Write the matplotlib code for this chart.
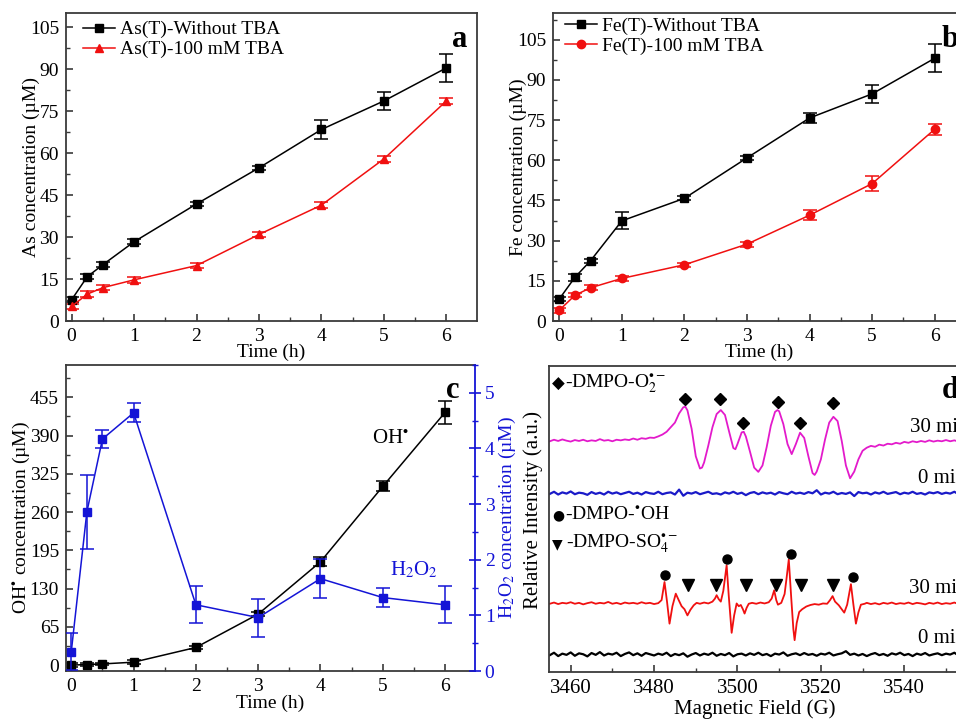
import numpy as np
import matplotlib
matplotlib.use("Agg")
import matplotlib.pyplot as plt
from matplotlib.ticker import MultipleLocator

plt.rcParams["font.family"] = ["Liberation Serif", "DejaVu Sans"]
plt.rcParams["mathtext.fontset"] = "stix"
plt.rcParams["font.size"] = 14

W, H = 956, 719

# ---------------- panel a / b / c data ----------------
time_h = [0, 0.25, 0.5, 1, 2, 3, 4, 5, 6]

as_without = [7.6, 15.8, 20.1, 28.3, 41.8, 54.7, 68.4, 78.6, 90.4]
as_without_err = [0.8, 0.9, 0.8, 0.9, 0.8, 0.8, 3.4, 3.3, 4.9]
as_tba = [5.2, 9.6, 11.9, 14.7, 19.8, 30.9, 41.4, 57.9, 78.6]
as_tba_err = [1.0, 1.0, 1.0, 1.0, 1.0, 1.0, 1.0, 1.0, 1.0]

fe_without = [8.2, 16.3, 22.5, 37.4, 45.8, 60.9, 75.8, 84.8, 98.1]
fe_without_err = [0.8, 1.4, 0.8, 3.2, 0.8, 0.8, 1.9, 3.5, 5.2]
fe_tba = [4.0, 9.6, 12.4, 15.9, 21.0, 28.7, 39.5, 51.3, 71.6]
fe_tba_err = [1.0, 0.8, 0.9, 0.8, 0.8, 0.9, 1.8, 2.9, 2.0]

oh_conc = [0.0, 1.0, 2.0, 5.0, 30.0, 86.7, 175.6, 303.7, 429.5]
oh_err = [3, 2, 2, 3, 3, 4, 7.6, 8.5, 19.8]
h2o2_conc = [0.35, 2.86, 4.17, 4.64, 1.19, 0.96, 1.66, 1.32, 1.19]
h2o2_err = [0.33, 0.67, 0.17, 0.17, 0.335, 0.34, 0.35, 0.165, 0.335]

# ---------------- panel d data (EPR, arbitrary offset units) ----------------
o2_30min = [
    (3455, 75.4), (3456, 75.9), (3457, 75.5), (3458, 76.0), (3459, 75.6), (3460, 75.3),
    (3461, 75.8), (3462, 75.5), (3463, 75.9), (3464, 75.4), (3465, 75.7), (3466, 75.5),
    (3467, 76.1), (3468, 75.6), (3469, 75.8), (3470, 75.4), (3471, 75.9), (3472, 75.7),
    (3473, 76.0), (3474, 75.8), (3475, 76.3), (3476, 75.9), (3477, 76.4), (3478, 76.2),
    (3479, 76.6), (3480, 76.5), (3481, 77.0), (3482, 77.6), (3483, 78.5), (3484, 80.0),
    (3485, 81.5), (3486, 84.5), (3487, 86.5), (3487.5, 86.7), (3488, 85.5), (3489, 79.5),
    (3490, 70.5), (3491, 66.5), (3491.5, 66.8), (3492, 68.5), (3493, 74.0), (3494, 80.0),
    (3495, 84.3), (3496, 85.6), (3497, 84.0), (3498, 78.5), (3499, 73.2), (3499.5, 72.8),
    (3500, 74.5), (3501, 78.3), (3501.5, 78.5), (3502, 77.0), (3503, 72.0), (3504, 66.8),
    (3505, 65.4), (3506, 67.5), (3507, 73.5), (3508, 80.5), (3509, 85.0), (3509.6, 85.6),
    (3510, 85.2), (3511, 81.0), (3512, 74.5), (3513, 71.2), (3514, 74.5), (3515, 78.2),
    (3516, 76.5), (3517, 70.5), (3518, 65.0), (3518.5, 64.4), (3519, 65.5), (3520, 69.5),
    (3521, 76.0), (3522, 81.5), (3523, 83.4), (3524, 82.0), (3525, 75.5), (3526, 67.5),
    (3527, 63.3), (3528, 65.5), (3529, 69.5), (3530, 72.3), (3531, 73.3), (3532, 73.9),
    (3533, 73.6), (3534, 74.3), (3535, 74.0), (3536, 74.6), (3537, 74.4), (3538, 74.9),
    (3539, 74.6), (3540, 75.2), (3541, 74.9), (3542, 75.4), (3543, 75.1), (3544, 75.5),
    (3545, 75.2), (3546, 75.7), (3547, 75.3), (3548, 75.6), (3549, 75.4), (3550, 75.8),
    (3551, 75.4), (3552, 75.7), (3553, 75.3), (3554, 75.6), (3555, 75.5),
]

blank_top = [
    58.2, 58.9, 58.0, 58.7, 58.3, 59.0, 58.1, 58.6, 58.4, 57.9,
    58.8, 58.2, 58.6, 58.0, 58.9, 58.3, 58.7, 58.1, 58.5, 58.9,
    58.2, 58.6, 58.0, 58.8, 58.4, 58.2, 58.9, 58.1, 58.5, 58.7,
    58.0, 59.6, 57.6, 58.6, 58.3, 58.8, 58.1, 58.5, 58.9, 58.2,
    58.4, 58.0, 58.7, 58.3, 58.9, 58.2, 58.6, 57.8, 58.5, 58.8,
    58.1, 58.7, 58.3, 58.6, 58.0, 58.8, 58.4, 58.1, 58.9, 58.3,
    58.6, 58.2, 58.8, 58.4, 59.4, 58.0, 58.6, 58.3, 58.9, 58.1,
    58.5, 58.2, 58.7, 57.5, 58.8, 58.4, 58.6, 58.0, 58.7, 58.3,
    58.9, 58.2, 58.5, 58.8, 58.1, 58.6, 58.3, 58.9, 58.2, 58.5,
    58.0, 58.7, 58.4, 58.8, 58.2, 58.6, 58.3, 58.9, 58.1, 58.5,
    58.4,
]

oh_so4_30min = [
    (3455, 22.3), (3456, 22.7), (3457, 22.2), (3458, 22.6), (3459, 22.4), (3460, 22.8),
    (3461, 22.3), (3462, 22.6), (3463, 22.1), (3464, 22.5), (3465, 22.8), (3466, 22.3),
    (3467, 22.6), (3468, 22.4), (3469, 22.9), (3470, 22.3), (3471, 22.6), (3472, 22.2),
    (3473, 22.7), (3474, 22.4), (3475, 22.6), (3476, 22.3), (3477, 22.8), (3478, 22.4),
    (3479, 22.6), (3480, 22.2), (3481, 22.5), (3481.8, 23.5), (3482.5, 29.4), (3483.1, 23.0),
    (3483.7, 15.8), (3484.4, 21.5), (3485.2, 25.6), (3485.9, 23.5), (3486.6, 21.5),
    (3487.3, 20.5), (3488.0, 18.5), (3488.7, 20.3), (3489.5, 21.8), (3490.2, 22.6),
    (3491, 22.3), (3492, 22.7), (3493, 22.4), (3494, 23.0), (3494.6, 24.0), (3495.0, 25.1),
    (3495.5, 23.8), (3496.0, 23.0), (3496.6, 26.5), (3497.4, 34.9), (3497.9, 25.0),
    (3498.6, 12.8), (3499.2, 18.5), (3499.8, 22.4), (3500.3, 21.5), (3500.8, 21.9),
    (3501.3, 20.5), (3501.7, 19.1), (3502.2, 21.0), (3502.7, 22.3), (3503.5, 22.6),
    (3504.5, 22.3), (3505.5, 22.7), (3506.5, 22.4), (3507.5, 22.8), (3508.2, 24.0),
    (3508.8, 26.7), (3509.3, 23.5), (3509.7, 22.0), (3510.5, 22.6), (3511.3, 25.5),
    (3511.8, 31.0), (3512.3, 36.8), (3512.9, 24.0), (3513.4, 14.0), (3513.7, 10.4),
    (3514.2, 16.0), (3514.8, 19.6), (3515.5, 20.5), (3516.5, 21.4), (3517.5, 21.9),
    (3518.5, 22.2), (3519.5, 22.0), (3520.5, 22.4), (3521.5, 22.3), (3522.2, 23.5),
    (3522.8, 24.8), (3523.4, 23.0), (3524.3, 21.8), (3525.0, 20.5), (3525.6, 19.4),
    (3526.3, 22.0), (3527.2, 28.7), (3527.8, 22.0), (3528.4, 15.8), (3529.0, 19.5),
    (3529.6, 22.0), (3530.5, 22.3), (3531, 22.6), (3532, 22.2), (3533, 22.5), (3534, 22.1),
    (3535, 22.6), (3536, 22.3), (3537, 22.7), (3538, 22.2), (3539, 22.5), (3540, 22.3),
    (3541, 22.7), (3542, 22.2), (3543, 22.6), (3544, 22.4), (3545, 22.1), (3546, 22.6),
    (3547, 22.3), (3548, 22.7), (3549, 22.2), (3550, 22.5), (3551, 22.3), (3552, 22.7),
    (3553, 22.2), (3554, 22.5), (3555, 22.4),
]

blank_bottom = [
    5.5, 6.3, 5.2, 6.0, 5.6, 6.4, 5.3, 6.1, 5.8, 5.1,
    6.2, 5.6, 6.5, 5.4, 6.0, 5.7, 6.3, 5.2, 5.9, 6.4,
    5.5, 6.1, 5.3, 6.2, 5.8, 5.4, 6.0, 5.6, 6.3, 5.2,
    5.9, 5.5, 6.1, 5.0, 5.7, 6.2, 5.4, 6.0, 5.6, 6.3,
    5.3, 5.9, 5.5, 6.2, 5.1, 5.8, 6.0, 5.4, 6.1, 5.6,
    6.3, 5.5, 5.9, 5.2, 6.0, 5.7, 6.4, 5.3, 5.8, 6.1,
    5.5, 6.2, 5.6, 5.9, 5.3, 6.0, 5.7, 6.3, 5.4, 5.8,
    6.1, 6.8, 5.6, 6.0, 5.4, 5.9, 5.2, 5.8, 6.2, 5.5,
    5.9, 5.3, 6.1, 5.7, 6.3, 5.5, 5.9, 5.2, 6.0, 5.6,
    6.2, 5.4, 5.8, 6.1, 5.5, 6.0, 5.7, 6.3, 5.4, 5.9,
    5.7,
]

diamond_field = [3487.3, 3495.8, 3501.3, 3509.6, 3515.0, 3523.0]
diamond_y = [89.2, 89.1, 81.5, 88.3, 81.5, 87.8]
circle_field = [3482.5, 3497.6, 3512.9, 3527.6]
circle_y = [31.6, 36.9, 38.7, 30.9]
triangle_field = [3488.2, 3494.9, 3502.0, 3509.2, 3515.2, 3522.9]
triangle_y = [28.4, 28.4, 28.4, 28.4, 28.4, 28.4]

BLUE = "#1414d6"
RED = "#f01010"
MAGENTA = "#e31acb"
SPINE = "#3a3a3a"


def rect(l, t, r, b):
    return [l / W, 1 - b / H, (r - l) / W, (b - t) / H]


def ftext(fig, x, y, s, **kw):
    kw.setdefault("ha", "left")
    kw.setdefault("va", "baseline")
    fig.text(x / W, 1 - y / H, s, **kw)


def style_axes(ax):
    for s in ax.spines.values():
        s.set_linewidth(1.3)
        s.set_color(SPINE)
    ax.tick_params(which="both", direction="in", top=False, right=False,
                   labelsize=14, pad=5, color=SPINE)
    ax.tick_params(which="major", length=5, width=1.2)
    ax.tick_params(which="minor", length=3, width=1.0)


def plot_series(ax, y, err, color, marker, ms):
    cont = ax.errorbar(time_h, y, yerr=err, color=color, marker=marker, ms=ms,
                       lw=1.1, capsize=5, elinewidth=1.1, capthick=1.1)
    return cont[0]


def add_legend(ax, handles, labels, anchor):
    ax.legend(handles, labels, loc="upper left", bbox_to_anchor=anchor,
              borderaxespad=0, borderpad=0, frameon=False, fontsize=14,
              handlelength=1.65, handletextpad=0.25, labelspacing=0.12)


fig = plt.figure(figsize=(W / 100, H / 100), dpi=100)

# ---- a ----
ax_a = fig.add_axes(rect(66, 13, 477, 321))
style_axes(ax_a)
h1 = plot_series(ax_a, as_without, as_without_err, "black", "s", 5.5)
h2 = plot_series(ax_a, as_tba, as_tba_err, RED, "^", 6)
ax_a.set_xlim(-0.09, 6.49)
ax_a.set_ylim(0, 110)
ax_a.xaxis.set_major_locator(MultipleLocator(1))
ax_a.xaxis.set_minor_locator(MultipleLocator(0.5))
ax_a.yaxis.set_major_locator(MultipleLocator(15))
ax_a.yaxis.set_minor_locator(MultipleLocator(7.5))
ax_a.set_xlabel("Time (h)", fontsize=14, labelpad=-1)
ax_a.set_ylabel("As concentration (µM)", fontsize=14, labelpad=-7)
add_legend(ax_a, [h1, h2], ["As(T)-Without TBA", "As(T)-100 mM TBA"], (0.041, 0.975))
ftext(fig, 452, 47, "a", fontsize=22, fontweight="bold")

# ---- b ----
ax_b = fig.add_axes(rect(553, 13, 966, 321))
style_axes(ax_b)
h1 = plot_series(ax_b, fe_without, fe_without_err, "black", "s", 5.5)
h2 = plot_series(ax_b, fe_tba, fe_tba_err, RED, "o", 6)
ax_b.set_xlim(-0.1, 6.5)
ax_b.set_ylim(0, 115)
ax_b.xaxis.set_major_locator(MultipleLocator(1))
ax_b.xaxis.set_minor_locator(MultipleLocator(0.5))
ax_b.yaxis.set_major_locator(MultipleLocator(15))
ax_b.yaxis.set_minor_locator(MultipleLocator(7.5))
ax_b.set_xlabel("Time (h)", fontsize=14, labelpad=-1)
ax_b.set_ylabel("Fe concentration (µM)", fontsize=14, labelpad=-7)
add_legend(ax_b, [h1, h2], ["Fe(T)-Without TBA", "Fe(T)-100 mM TBA"], (0.029, 0.985))
ftext(fig, 942, 47, "b", fontsize=22, fontweight="bold")

# ---- c ----
ax_c = fig.add_axes(rect(66, 365, 475, 671))
style_axes(ax_c)
plot_series(ax_c, oh_conc, oh_err, "black", "s", 5.5)
ax_c.set_xlim(-0.085, 6.48)
ax_c.set_ylim(-10, 510)
ax_c.xaxis.set_major_locator(MultipleLocator(1))
ax_c.xaxis.set_minor_locator(MultipleLocator(0.5))
ax_c.yaxis.set_major_locator(MultipleLocator(65))
ax_c.yaxis.set_minor_locator(MultipleLocator(32.5))
ax_c.set_xlabel("Time (h)", fontsize=14, labelpad=0)
ax_c.set_ylabel("OH$^{\\bullet}$ concentration (µM)", fontsize=14, labelpad=-2)
ax_c.spines["right"].set_visible(False)

ax_c2 = ax_c.twinx()
for s in ax_c2.spines.values():
    s.set_visible(False)
ax_c2.spines["right"].set_visible(True)
ax_c2.spines["right"].set_color(BLUE)
ax_c2.spines["right"].set_linewidth(1.3)
plot_series(ax_c2, h2o2_conc, h2o2_err, BLUE, "s", 5.5)
ax_c2.set_ylim(0, 5.5)
ax_c2.yaxis.set_major_locator(MultipleLocator(1))
ax_c2.yaxis.set_minor_locator(MultipleLocator(0.5))
ax_c2.tick_params(axis="y", which="both", direction="inout", colors=BLUE,
                  labelsize=14, pad=3)
ax_c2.tick_params(axis="y", which="major", length=8, width=1.2)
ax_c2.tick_params(axis="y", which="minor", length=4, width=1.0)
ax_c2.set_ylabel("H$_2$O$_2$ concentration (µM)", fontsize=14, color=BLUE, labelpad=2)
ftext(fig, 372, 443, "OH$^{\\bullet}$", fontsize=15)
ftext(fig, 390, 575, "H$_2$O$_2$", fontsize=15, color=BLUE)
ftext(fig, 446, 398, "c", fontsize=22, fontweight="bold")

# ---- d ----
ax_d = fig.add_axes(rect(549, 366, 961, 672))
style_axes(ax_d)
f, v = zip(*o2_30min)
ax_d.plot(f, v, color=MAGENTA, lw=1.3)
ax_d.plot(np.arange(3455, 3455 + len(blank_top)), blank_top, color="#1a1ac8", lw=1.6)
f, v = zip(*oh_so4_30min)
ax_d.plot(f, v, color=RED, lw=1.3)
ax_d.plot(np.arange(3455, 3455 + len(blank_bottom)), blank_bottom, color="black", lw=1.6)
ax_d.plot(diamond_field, diamond_y, "D", color="black", ms=6.5, ls="none")
ax_d.plot(circle_field, circle_y, "o", color="black", ms=6.5, ls="none")
ax_d.plot(triangle_field, triangle_y, "v", color="black", ms=8, ls="none")
ax_d.set_xlim(3454.8, 3553.6)
ax_d.set_ylim(0, 100)
ax_d.xaxis.set_major_locator(MultipleLocator(20))
ax_d.xaxis.set_minor_locator(MultipleLocator(10))
ax_d.set_yticks([])
ax_d.set_xlabel("Magnetic Field (G)", fontsize=15, labelpad=1)
ax_d.set_ylabel("Relative Intensity (a.u.)", fontsize=15)
ax_d.yaxis.set_label_coords(-0.014, 0.53)
ax_d.tick_params(axis="x", labelsize=15)

sym = dict(family="DejaVu Sans", fontsize=12)
ftext(fig, 552, 389, "◆", **sym)
ftext(fig, 565, 388, "-DMPO-O$_2^{\\bullet-}$", fontsize=14)
ftext(fig, 552, 519, "●", family="DejaVu Sans", fontsize=10)
ftext(fig, 565, 519, "-DMPO-$^{\\bullet}$OH", fontsize=14)
ftext(fig, 552, 548, "▼", family="DejaVu Sans", fontsize=10)
ftext(fig, 566, 548, "-DMPO-SO$_4^{\\bullet-}$", fontsize=14)
ftext(fig, 910, 432, "30 min", fontsize=15)
ftext(fig, 918, 483, "0 min", fontsize=15)
ftext(fig, 909, 593, "30 min", fontsize=15)
ftext(fig, 918, 643, "0 min", fontsize=15)
ftext(fig, 942, 398, "d", fontsize=22, fontweight="bold")

fig.savefig("out.png", dpi=100, facecolor="white")
